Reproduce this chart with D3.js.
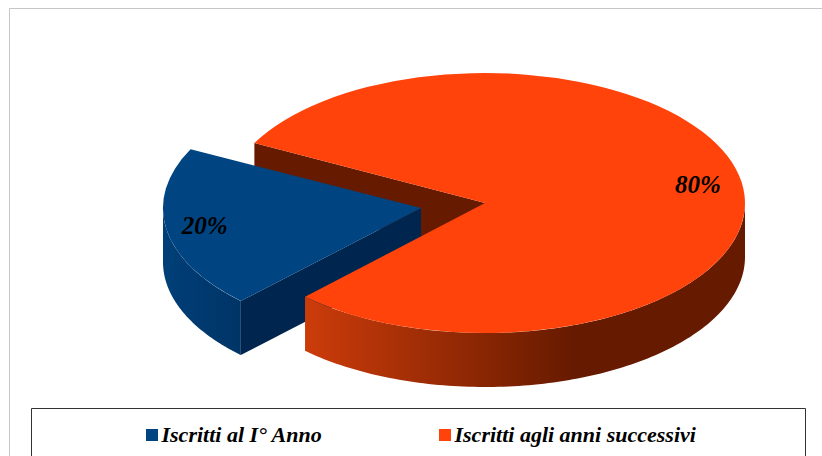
<!DOCTYPE html>
<html><head><meta charset="utf-8">
<script src="https://cdn.jsdelivr.net/npm/d3@7"></script>
<style>html,body{margin:0;padding:0;background:#fff;overflow:hidden}svg{display:block}
text{font-family:"Liberation Serif",serif;font-weight:bold;font-style:italic;fill:#000}</style>
</head><body><svg id="c" width="822" height="456"></svg>
<script>
const categories = ["Iscritti al I° Anno", "Iscritti agli anni successivi"];
const values = [20, 80];
const percentLabels = ["20%", "80%"];
const topColors = ["#004581", "#ff430a"];
const wallColors = ["#00264f", "#661a00"];
const sideGradients = [["#003f78", "#003466"], ["#cc3c0a", "#661a00"]];

const W = 822, H = 456;
const svg = d3.select("#c");
const rad = d3.scaleLinear().domain([0, 360]).range([0, 2 * Math.PI]);

// geometry of each slice: apex, radii, gradient extents, perspective nudge of the cut angles (degrees)
const geom = [
  {cx: 421, cy: 208, rx: 258, ry: 130, gx: [163, 242], nudge: [0, 0.5]},
  {cx: 485, cy: 203, rx: 260, ry: 130, gx: [305, 575], nudge: [1.2, -0.5]}
];
const depth = 54;

const pie = d3.pie().sort(null).startAngle(rad(224.3)).endAngle(rad(224.3 + 360));
const arcs = pie(values).map((d, i) => ({
  ...d,
  startAngle: d.startAngle + rad(geom[i].nudge[0]),
  endAngle: d.endAngle + rad(geom[i].nudge[1])
}));

const defs = svg.append("defs");
sideGradients.forEach((g, i) => {
  const lg = defs.append("linearGradient").attr("id", "side" + i)
    .attr("gradientUnits", "userSpaceOnUse")
    .attr("x1", geom[i].gx[0]).attr("x2", geom[i].gx[1]).attr("y1", 0).attr("y2", 0);
  lg.append("stop").attr("offset", 0).attr("stop-color", g[0]);
  lg.append("stop").attr("offset", 1).attr("stop-color", g[1]);
});

// chart frame
svg.append("path").attr("d", `M9.5 ${H}V8.5H${W}`).attr("fill", "none").attr("stroke", "#c6c6c6").attr("stroke-width", 1);

function px(g, a, r = 1) { return g.cx + g.rx * r * Math.sin(a); }
function py(g, a, r = 1) { return g.cy - g.ry * r * Math.cos(a); }
const line = d3.line();

function sidePath(g, a0, a1) {
  const steps = d3.range(0, 121).map(k => a0 + (a1 - a0) * k / 120);
  const up = steps.map(a => [px(g, a), py(g, a)]);
  const down = steps.slice().reverse().map(a => [px(g, a), py(g, a) + depth]);
  return line(up.concat(down)) + "Z";
}
function wallPath(g, a) {
  const p = [[g.cx, g.cy], [px(g, a), py(g, a)], [px(g, a), py(g, a) + depth], [g.cx, g.cy + depth]];
  return line(p) + "Z";
}
function topSlice(sel, g, d, color) {
  sel.append("path")
    .attr("transform", `translate(${g.cx},${g.cy}) scale(${g.rx},${g.ry})`)
    .attr("d", d3.arc().innerRadius(0).outerRadius(1)(d))
    .attr("fill", color);
}

const [b, o] = arcs;
const gb = geom[0], go = geom[1];
const chart = svg.append("g");

chart.append("path").attr("d", wallPath(go, o.startAngle)).attr("fill", wallColors[1]);

chart.append("path").attr("d", sidePath(gb, b.startAngle, Math.min(b.endAngle, rad(270)))).attr("fill", "url(#side0)");
chart.append("path").attr("d", wallPath(gb, b.startAngle)).attr("fill", wallColors[0]);
topSlice(chart, gb, b, topColors[0]);

chart.append("path").attr("d", sidePath(go, rad(450), o.endAngle)).attr("fill", "url(#side1)");
topSlice(chart, go, o, topColors[1]);

// percent labels
const labelR = [0.85, 0.83];
arcs.forEach((d, i) => {
  const mid = (d.startAngle + d.endAngle) / 2;
  svg.append("text")
    .attr("x", px(geom[i], mid, labelR[i]))
    .attr("y", py(geom[i], mid, labelR[i]) + 8)
    .attr("text-anchor", "middle")
    .attr("font-size", 25)
    .text(percentLabels[i]);
});

// legend
svg.append("path").attr("d", `M31.5 ${H}V408.5H805.5V${H}`).attr("fill", "none").attr("stroke", "#333").attr("stroke-width", 1);
const legendX = [146, 439];
categories.forEach((c, i) => {
  svg.append("rect").attr("x", legendX[i]).attr("y", 429).attr("width", 12).attr("height", 12).attr("fill", topColors[i]);
  svg.append("text").attr("x", legendX[i] + 15.5).attr("y", 441.5).attr("font-size", 22).text(c);
});
</script></body></html>
